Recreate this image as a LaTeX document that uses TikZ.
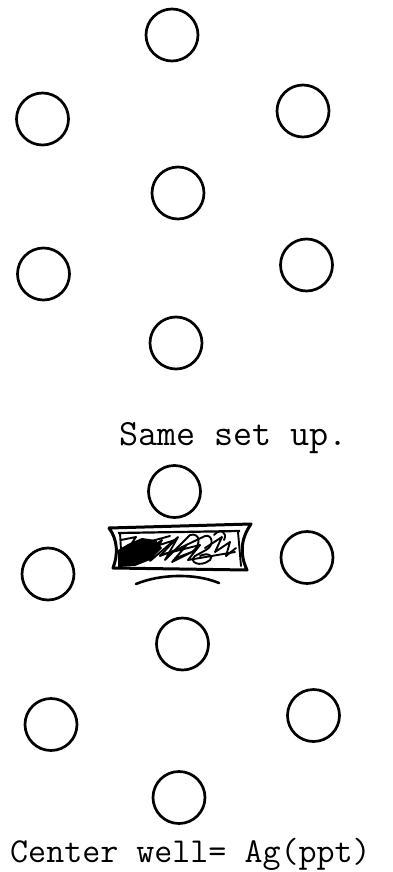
\documentclass[tikz,border=0pt]{standalone}
\usetikzlibrary{calc}
\begin{document}
\begin{tikzpicture}[x=1pt,y=-1pt,
  well/.style={circle,draw,line width=2.7pt,minimum size=52pt,inner sep=0pt},
  boxedge/.style={line width=3pt,line join=round,line cap=round},
  scrib/.style={line width=1.9pt,line join=round,line cap=round},
  typed/.style={anchor=base west,inner sep=0pt}]
\useasboundingbox (0,0) rectangle (393,872);
% upper set
\node[well] (a1) at (172,35) {};
\node[well] (a2) at (42.5,119) {};
\node[well] (a3) at (303,111) {};
\node[well] (a4) at (178,193) {};
\node[well] (a5) at (43.5,274) {};
\node[well] (a6) at (306.5,265) {};
\node[well] (a7) at (176,343) {};
\node[typed,font={\ttfamily\fontsize{37}{40}\selectfont}] (same) at (119,445) {Same set up.};
% lower set
\node[well] (b1) at (174.5,491.5) {};
\node[well] (b2) at (48,574) {};
\node[well] (b3) at (307,557.5) {};
\node[well] (b4) at (182.5,644) {};
\node[well] (b5) at (51,724.5) {};
\node[well] (b6) at (313.5,715.5) {};
\node[well] (b7) at (179,797.5) {};
% scribbled centre well
\draw[boxedge] (109,528) -- (251,524) .. controls (240,540) and (240,555) .. (247,570)
  -- (113,568) .. controls (118,555) and (118,540) .. (109,528);
\draw[line width=2.2pt] (118,533) -- (240,531);
\draw[scrib] (120,533) -- (122,566);
\draw[scrib] (238,532) -- (241,566);
\fill (118,550) -- (128,544) -- (142,538) -- (156,540) -- (162,548) -- (150,560) -- (135,566) -- (118,567) -- cycle;
\draw[scrib] (121,540) -- (136,537) -- (123,556) -- (146,544) -- (131,562)
  -- (162,540) -- (150,561) -- (178,537) -- (165,560) -- (190,535)
  .. controls (200,532) and (202,545) .. (192,552) -- (176,558);
\draw[scrib] (150,548) -- (175,540) -- (160,556) -- (186,546) -- (172,562) -- (196,550);
\draw[scrib] (180,548) -- (205,536) .. controls (212,534) and (215,545) .. (206,550)
  -- (195,556) .. controls (188,562) and (200,568) .. (210,560)
  .. controls (214,556) and (208,552) .. (200,556);
\draw[scrib] (205,548) -- (222,537) -- (215,552) -- (230,542) -- (226,556) -- (236,548);
\draw[scrib] (214,535) .. controls (220,528) and (228,532) .. (224,540);
\draw[scrib] (160,555) -- (200,545) -- (188,560) -- (235,552);
\draw[scrib] (126,548) -- (170,536);
% arc below
\draw[line width=2.6pt,line cap=round] (136,584) .. controls (160,574) and (195,573) .. (219,583);
% caption
\node[typed,font={\ttfamily\fontsize{35}{38}\selectfont}] (cap) at (10,862) {Center well= Ag(ppt)};
\end{tikzpicture}
\end{document}
